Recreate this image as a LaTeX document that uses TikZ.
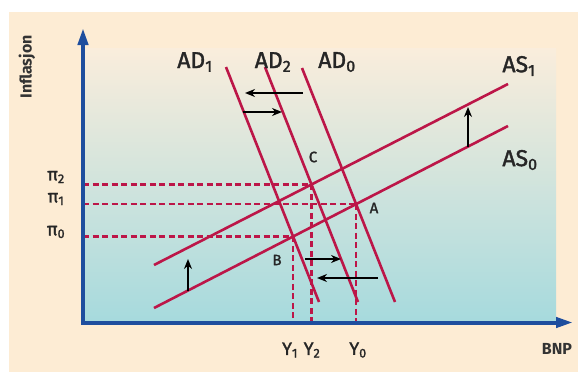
\documentclass[tikz,border=0pt]{standalone}
\usepackage{fontspec}
\setmainfont{Fira Sans}
\newfontfamily\labfont{Fira Sans}[FakeBold=1.6]
\usetikzlibrary{arrows.meta,intersections}
\definecolor{bgbeige}{RGB}{253,236,212}
\definecolor{paneltop}{RGB}{250,237,220}
\definecolor{panelmid}{RGB}{212,230,222}
\definecolor{panelbot}{RGB}{166,218,221}
\definecolor{curvered}{RGB}{188,22,72}
\definecolor{axisblue}{RGB}{30,78,158}
\newcommand\lowsub[1]{\textsubscript{#1}}
\begin{document}
\begin{tikzpicture}[x=1pt,y=-1pt,
  curve/.style={curvered,line width=2.6pt},
  guide/.style={curvered,line width=2.1pt,dash pattern=on 6pt off 3.5pt},
  axisline/.style={axisblue,line width=4pt,line join=miter,
    {Triangle[length=17pt,width=10pt]}-{Triangle[length=17pt,width=10pt]}},
  shiftarrow/.style={black,line width=1.8pt,-{Stealth[length=10pt,width=8pt]}},
  biglabel/.style={font=\labfont\fontsize{23}{25}\selectfont,inner sep=0pt,text=black!85},
  axlabel/.style={font=\labfont\fontsize{18}{20}\selectfont,inner sep=0pt,text=black!85},
  ptlabel/.style={font=\labfont\fontsize{15}{17}\selectfont,inner sep=0pt,text=black!85},
  titlelabel/.style={font=\fontsize{16}{18}\selectfont\bfseries,inner sep=0pt,text=black!80}]
\useasboundingbox (0,0) rectangle (578,372);
\fill[white] (0,0) rectangle (578,372);
\fill[bgbeige] (9,12) rectangle (578,372);
\shade[top color=paneltop, middle color=panelmid, bottom color=panelbot] (83,48) rectangle (556,322.5);

% axes points
\coordinate (O) at (83,322.5);
\coordinate (ytip) at (83,28);
\coordinate (xtip) at (573,322.5);

% curve end points
\coordinate (as0s) at (154,308);
\coordinate (as0e) at (508,126);
\coordinate (as1s) at (154,265);
\coordinate (as1e) at (508,84);
\coordinate (ad0s) at (302,68);
\coordinate (ad0e) at (395,302);
\coordinate (ad2s) at (265,67);
\coordinate (ad2e) at (358,302);
\coordinate (ad1s) at (226,67);
\coordinate (ad1e) at (319,302);

\path[name path=as0] (as0s) -- (as0e);
\path[name path=as1] (as1s) -- (as1e);
\path[name path=ad0] (ad0s) -- (ad0e);
\path[name path=ad1] (ad1s) -- (ad1e);
\path[name path=ad2] (ad2s) -- (ad2e);
\path[name intersections={of=as0 and ad0, by=A}];
\path[name intersections={of=as0 and ad1, by=B}];
\path[name intersections={of=as1 and ad2, by=C}];

% dashed guides
\draw[guide] (A -| O) -- (A);
\draw[guide] (A) -- (A |- O);
\draw[guide] (B -| O) -- (B);
\draw[guide] (B) -- (B |- O);
\draw[guide] (C -| O) -- (C);
\draw[guide] (C) -- (C |- O);

% curves
\draw[curve] (as0s) -- (as0e);
\draw[curve] (as1s) -- (as1e);
\draw[curve] (ad0s) -- (ad0e);
\draw[curve] (ad1s) -- (ad1e);
\draw[curve] (ad2s) -- (ad2e);

% shift arrows
\coordinate (s1a) at (303,93);  \coordinate (s1b) at (245,93);
\coordinate (s2a) at (243,112); \coordinate (s2b) at (282,112);
\coordinate (s3a) at (305,259); \coordinate (s3b) at (341,259);
\coordinate (s4a) at (378,278); \coordinate (s4b) at (317,278);
\coordinate (s5a) at (468,147); \coordinate (s5b) at (468,107);
\coordinate (s6a) at (188,291); \coordinate (s6b) at (188,259);
\draw[shiftarrow] (s1a) -- (s1b);
\draw[shiftarrow] (s2a) -- (s2b);
\draw[shiftarrow] (s3a) -- (s3b);
\draw[shiftarrow] (s4a) -- (s4b);
\draw[shiftarrow] (s5a) -- (s5b);
\draw[shiftarrow] (s6a) -- (s6b);

% axes
\draw[axisline] (ytip) -- (O) -- (xtip);

% labels
\node[titlelabel, rotate=90] (ylab) at (27,67) {Inflasjon};
\node[titlelabel] (xlab) at (557,349) {BNP};
\node[biglabel] (lad1) at (195,62) {AD\lowsub{1}};
\node[biglabel] (lad2) at (273,62) {AD\lowsub{2}};
\node[biglabel] (lad0) at (337,62) {AD\lowsub{0}};
\node[biglabel] (las1) at (519,66) {AS\lowsub{1}};
\node[biglabel] (las0) at (520,160) {AS\lowsub{0}};
\node[axlabel] (lp2) at (56,177) {π\lowsub{2}};
\node[axlabel] (lp1) at (56,199) {π\lowsub{1}};
\node[axlabel] (lp0) at (56,232) {π\lowsub{0}};
\node[axlabel] (ly1) at (290,350) {Y\lowsub{1}};
\node[axlabel] (ly2) at (312,350) {Y\lowsub{2}};
\node[axlabel] (ly0) at (358,350) {Y\lowsub{0}};
\node[ptlabel] (la) at (374,208) {A};
\node[ptlabel] (lb) at (277,260) {B};
\node[ptlabel] (lc) at (313,157) {C};
\end{tikzpicture}
\end{document}
